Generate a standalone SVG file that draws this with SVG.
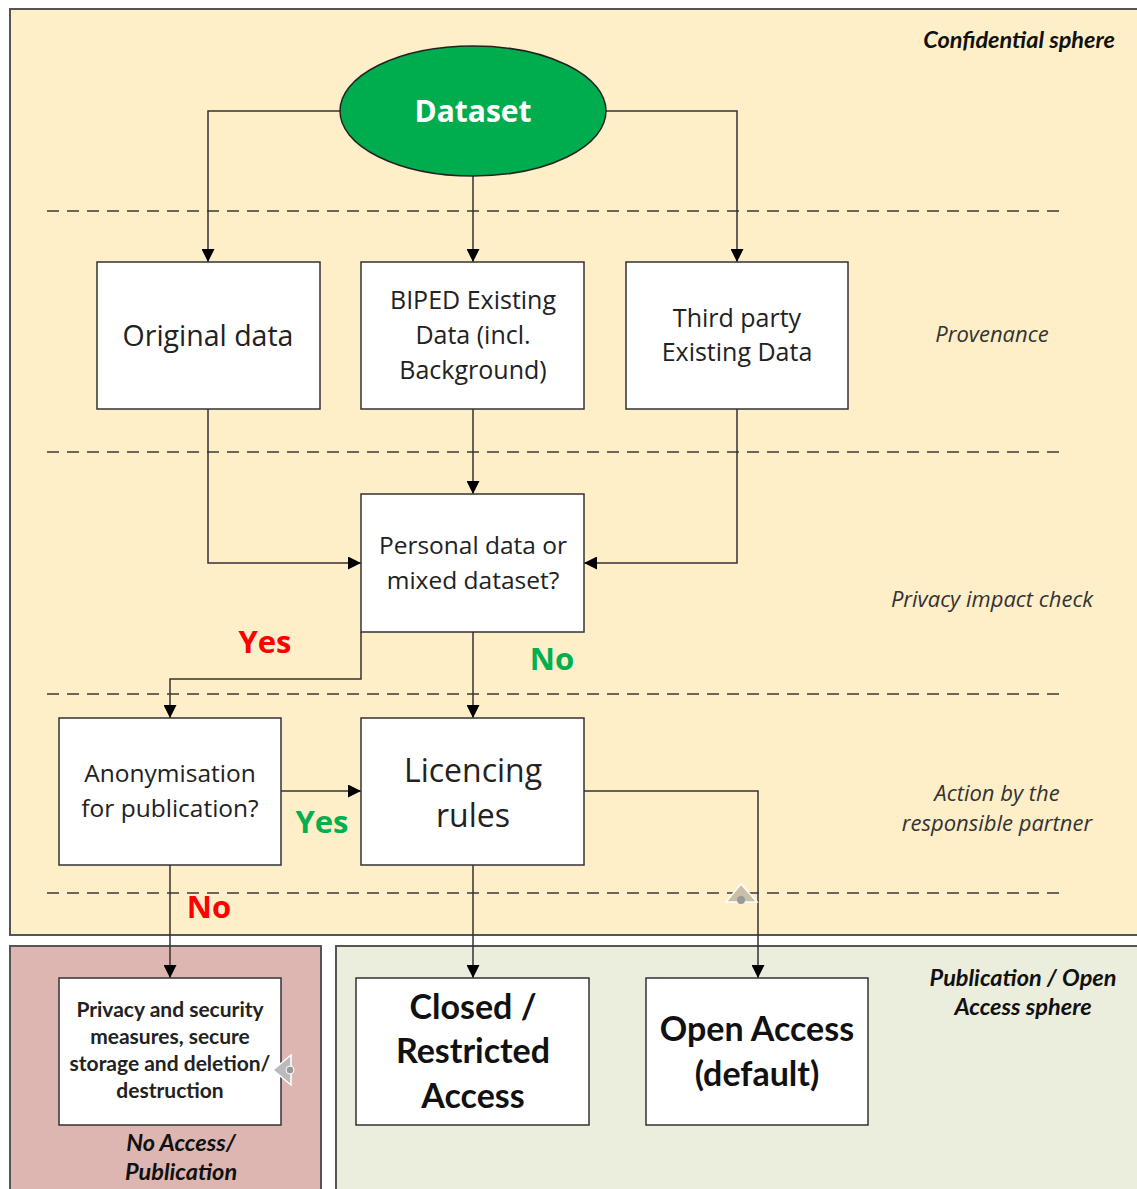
<svg xmlns="http://www.w3.org/2000/svg" width="1137" height="1189" viewBox="0 0 1137 1189">
<defs>
<marker id="arr" viewBox="0 0 10 10" refX="10" refY="5" markerWidth="13" markerHeight="13" markerUnits="userSpaceOnUse" orient="auto">
<path d="M0,0 L10,5 L0,10 z" fill="#000"/>
</marker>
</defs>
<style>
.zone{stroke:#555;stroke-width:2}
.box{fill:#fff;stroke:#333;stroke-width:1.5}
.dash{stroke:#6b6659;stroke-width:2;stroke-dasharray:12,8;fill:none}
.conn{stroke:#333;stroke-width:1.5;fill:none;marker-end:url(#arr)}
.seg{font-family:"Open Sans","Noto Sans",sans-serif;fill:#222;text-anchor:middle}
.cal{font-family:Lato,"Liberation Sans",sans-serif;fill:#111;text-anchor:middle}
.side{font-family:"Open Sans","Noto Sans",sans-serif;font-style:italic;fill:#333;font-size:22px;text-anchor:middle}
.sideb{font-family:Lato,"Liberation Sans",sans-serif;font-style:italic;font-weight:bold;fill:#111;font-size:23.5px;text-anchor:middle}
.lab{font-family:"Open Sans","Noto Sans",sans-serif;font-weight:bold;font-size:31px;text-anchor:middle}
</style>
<rect width="1137" height="1189" fill="#fff"/>
<g id="zones">
<rect class="zone" x="10" y="9" width="1140" height="926" fill="#FEEFC9"/>
<rect class="zone" x="10" y="946" width="311" height="260" fill="#DDB5B1"/>
<rect class="zone" x="336" y="946" width="820" height="260" fill="#EBEEDC"/>
</g>
<g id="dividers">
<line class="dash" x1="47" y1="211" x2="1062" y2="211"/>
<line class="dash" x1="47" y1="452" x2="1062" y2="452"/>
<line class="dash" x1="47" y1="694" x2="1062" y2="694"/>
<line class="dash" x1="47" y1="893" x2="1062" y2="893"/>
</g>
<g id="sidelabels">
<text class="sideb" x="1115" y="48" style="text-anchor:end">Confidential sphere</text>
<text class="side" x="992" y="342">Provenance</text>
<text class="side" x="992" y="607">Privacy impact check</text>
<text class="side" x="997" y="801">Action by the</text>
<text class="side" x="997" y="831">responsible partner</text>
<text class="sideb" x="1023" y="986">Publication / Open</text>
<text class="sideb" x="1023" y="1015">Access sphere</text>
<text class="sideb" x="181" y="1151">No Access/</text>
<text class="sideb" x="181" y="1180">Publication</text>
</g>
<g id="connectors">
<path class="conn" d="M340,111 H208 V262"/>
<path class="conn" d="M473,176 V262"/>
<path class="conn" d="M606,111 H737 V262"/>
<path class="conn" d="M208,409 V563 H361"/>
<path class="conn" d="M473,409 V494"/>
<path class="conn" d="M737,409 V563 H584"/>
<path class="conn" d="M361,632 V679 H170 V718"/>
<path class="conn" d="M473,632 V718"/>
<path class="conn" d="M281,791 H361"/>
<path class="conn" d="M170,865 V978"/>
<path class="conn" d="M473,865 V978"/>
<path class="conn" d="M584,791 H758 V978"/>
</g>
<g id="edgelabels">
<text class="lab" x="265" y="653" fill="#FF0000">Yes</text>
<text class="lab" x="552" y="670" fill="#00B050">No</text>
<text class="lab" x="322" y="833" fill="#00B050">Yes</text>
<text class="lab" x="209" y="918" fill="#FF0000">No</text>
</g>
<g id="dataset">
<ellipse cx="473" cy="111" rx="133" ry="65" fill="#00AD4E" stroke="#222" stroke-width="1.5"/>
<text class="seg" x="473" y="122" style="fill:#fff;font-weight:bold;font-size:30px">Dataset</text>
</g>
<g id="original">
<rect class="box" x="97" y="262" width="223" height="147"/>
<text class="seg" x="208" y="346" font-size="28.5">Original data</text>
</g>
<g id="biped">
<rect class="box" x="361" y="262" width="223" height="147"/>
<text class="seg" x="473" y="309" font-size="25">BIPED Existing</text>
<text class="seg" x="473" y="344" font-size="25">Data (incl.</text>
<text class="seg" x="473" y="379" font-size="25">Background)</text>
</g>
<g id="thirdparty">
<rect class="box" x="626" y="262" width="222" height="147"/>
<text class="seg" x="737" y="327" font-size="25">Third party</text>
<text class="seg" x="737" y="361" font-size="25">Existing Data</text>
</g>
<g id="personal">
<rect class="box" x="361" y="494" width="223" height="138"/>
<text class="seg" x="473" y="554" font-size="24.5">Personal data or</text>
<text class="seg" x="473" y="589" font-size="24.5">mixed dataset?</text>
</g>
<g id="anonymisation">
<rect class="box" x="59" y="718" width="222" height="147"/>
<text class="seg" x="170" y="782" font-size="24.5">Anonymisation</text>
<text class="seg" x="170" y="817" font-size="24.5">for publication?</text>
</g>
<g id="licencing">
<rect class="box" x="361" y="718" width="223" height="147"/>
<text class="seg" x="473" y="782" font-size="32">Licencing</text>
<text class="seg" x="473" y="827" font-size="32">rules</text>
</g>
<g id="privacy">
<rect class="box" x="59" y="978" width="222" height="147"/>
<text class="cal" x="170" y="1017" font-size="21" font-weight="bold" style="fill:#222">Privacy and security</text>
<text class="cal" x="170" y="1044" font-size="21" font-weight="bold" style="fill:#222">measures, secure</text>
<text class="cal" x="170" y="1071" font-size="21" font-weight="bold" style="fill:#222">storage and deletion/</text>
<text class="cal" x="170" y="1098" font-size="21" font-weight="bold" style="fill:#222">destruction</text>
</g>
<g id="closed">
<rect class="box" x="356" y="978" width="233" height="147"/>
<text class="cal" x="473" y="1019" font-size="34" font-weight="bold">Closed /</text>
<text class="cal" x="473" y="1063" font-size="34" font-weight="bold">Restricted</text>
<text class="cal" x="473" y="1108" font-size="34" font-weight="bold">Access</text>
</g>
<g id="openaccess">
<rect class="box" x="646" y="978" width="222" height="147"/>
<text class="cal" x="757" y="1041" font-size="34" font-weight="bold">Open Access</text>
<text class="cal" x="757" y="1086" font-size="34" font-weight="bold">(default)</text>
</g>
<g id="handles">
<path d="M726,902 L741,884 L757,902 z" fill="#C9BFA4" stroke="#fff" stroke-width="1.5"/>
<circle cx="741" cy="900" r="4" fill="#999"/>
<path d="M273,1070 L291,1055 L291,1085 z" fill="#bbb" stroke="#fff" stroke-width="1.5"/>
<circle cx="290" cy="1070" r="4" fill="#999" stroke="#fff"/>
</g>
</svg>
